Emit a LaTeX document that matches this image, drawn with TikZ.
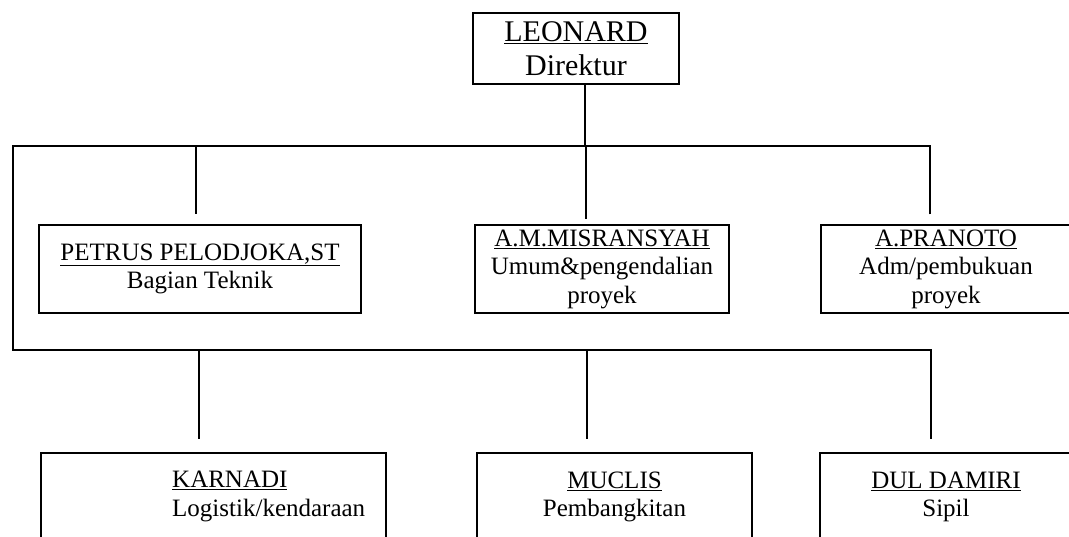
\documentclass[tikz,border=0pt]{standalone}
\usepackage{fontspec}
\setmainfont{Liberation Serif}
\begin{document}
\begin{tikzpicture}[x=1pt,y=-1pt,
  box/.style={draw, line width=1.3pt, rectangle, inner sep=0pt, align=center,
    font=\fontsize{25}{28.5}\selectfont},
  txt/.style={inner sep=0pt, align=left, font=\fontsize{25}{28.5}\selectfont},
  conn/.style={line width=1.8pt, line join=miter}]
\useasboundingbox (0,0) rectangle (1069,536);
\clip (0,0) rectangle (1069,536);
% top
\node[box, minimum width=206, minimum height=71, font=\fontsize{30}{34}\selectfont]
  (leonard) at (576,48.5) {\underline{LEONARD}\\Direktur};
% row 2
\node[box, minimum width=322, minimum height=88] (petrus) at (200,269)
  {\underline{PETRUS PELODJOKA,ST}\\Bagian Teknik};
\node[box, minimum width=254, minimum height=88] (misran) at (602,269)
  {\underline{A.M.MISRANSYAH}\\Umum\&pengendalian\\proyek};
\node[box, minimum width=250, minimum height=88] (pranoto) at (946,269)
  {\underline{A.PRANOTO}\\Adm/pembukuan\\proyek};
% row 3
\node[box, minimum width=345, minimum height=88] (karnadi) at (213.5,497) {};
\node[txt, anchor=west] (karnaditext) at (172,496.5)
  {\underline{KARNADI}\\Logistik/kendaraan};
\node[box, minimum width=275, minimum height=88] (muclis) at (614.5,497)
  {\underline{MUCLIS}\\Pembangkitan};
\node[box, minimum width=252, minimum height=88] (dul) at (946,497)
  {\underline{DUL DAMIRI}\\Sipil};
% junctions
\coordinate (jl) at (13,146);
\coordinate (jr) at (930,146);
\coordinate (jc) at (585,146);
\coordinate (jp) at (196,146);
\coordinate (jm) at (586,146);
\coordinate (bl) at (13,350);
\coordinate (br) at (931,350);
\coordinate (bk) at (199,350);
\coordinate (bm) at (587,350);
% connectors
\draw[conn] ([xshift=9]leonard.south) -- (jc);
\draw[conn, shorten <=10pt, shorten >=13pt]
  (jr |- pranoto.north) -- (jr) -- (jl) -- (bl) -- (br) -- (br |- dul.north);
\draw[conn, shorten >=10pt] (jp) -- (jp |- petrus.north);
\draw[conn, shorten >=5pt] (jm) -- (jm |- misran.north);
\draw[conn, shorten >=13pt] (bk) -- (bk |- karnadi.north);
\draw[conn, shorten >=13pt] (bm) -- (bm |- muclis.north);
\end{tikzpicture}
\end{document}
